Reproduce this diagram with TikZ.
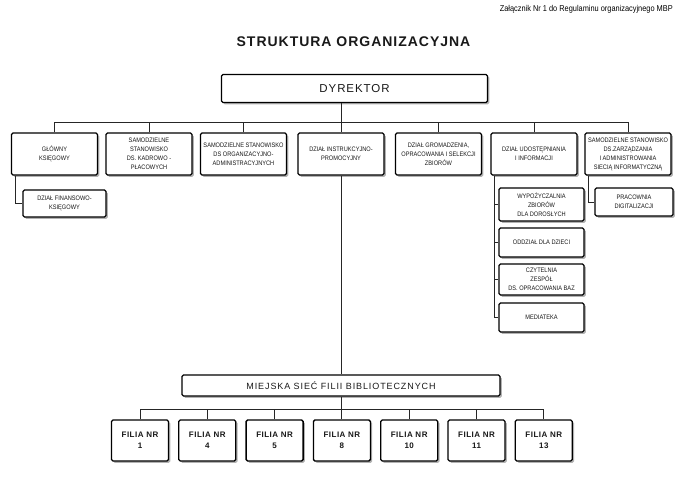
\documentclass[tikz,border=0pt]{standalone}
\usepackage{fontspec}
\setmainfont{Liberation Sans}
\newfontfamily\narrowfont[FakeStretch=0.87]{Liberation Sans}
\newfontfamily\titlefont[LetterSpace=7]{Liberation Sans}
\newfontfamily\spacedfont[LetterSpace=10]{Liberation Sans}
\newfontfamily\dirfont[LetterSpace=8]{Liberation Sans}
\newfontfamily\filfont[LetterSpace=6]{Liberation Sans}
\usetikzlibrary{shadows}
\tikzset{
  orgbox/.style={draw=black, line width=1.3pt, rounded corners=1.5pt, fill=white,
    align=center, inner sep=1pt, text=black!90,
    drop shadow={shadow xshift=1.8pt, shadow yshift=-1.8pt, fill=black, opacity=0.3}},
  smalltxt/.style={font=\fontsize{6.5}{9}\narrowfont},
  rowone/.style={orgbox, smalltxt, minimum width=86pt, minimum height=42pt},
  subbox/.style={orgbox, smalltxt, minimum width=85pt},
  filbox/.style={orgbox, minimum width=57pt, minimum height=41pt,
    font=\fontsize{8}{11}\filfont\bfseries},
  conn/.style={line width=0.9pt, black!85}
}
\begin{document}
\begin{tikzpicture}[x=1pt,y=-1pt]
\useasboundingbox (0,0) rectangle (690,483);
\fill[white] (0,0) rectangle (690,483);

\node[anchor=east, inner sep=0pt, font=\fontsize{8.5}{10}\narrowfont] (hdr) at (673,9)
  {Załącznik Nr 1 do Regulaminu organizacyjnego MBP};
\node[inner sep=0pt, font=\fontsize{14}{16}\titlefont\bfseries, text=black!90] (title) at (353.5,42)
  {STRUKTURA ORGANIZACYJNA};

\node[orgbox, minimum width=266pt, minimum height=28pt, font=\fontsize{11.5}{13}\dirfont] (dir) at (354.5,88.5) {DYREKTOR};

\node[rowone] (b1) at (54.5,154) {GŁÓWNY\\KSIĘGOWY};
\node[rowone] (b2) at (149,154) {SAMODZIELNE\\STANOWISKO\\DS. KADROWO -\\PŁACOWYCH};
\node[rowone] (b3) at (243.5,154) {SAMODZIELNE STANOWISKO\\DS ORGANIZACYJNO-\\ADMINISTRACYJNYCH};
\node[rowone] (b4) at (341,154) {DZIAŁ INSTRUKCYJNO-\\PROMOCYJNY};
\node[rowone] (b5) at (438.5,154) {DZIAŁ GROMADZENIA,\\OPRACOWANIA I SELEKCJI\\ZBIORÓW};
\node[rowone] (b6) at (534,154) {DZIAŁ UDOSTĘPNIANIA\\I INFORMACJI};
\node[rowone] (b7) at (628,154) {SAMODZIELNE STANOWISKO\\DS.ZARZĄDZANIA\\I ADMINISTROWANIA\\SIECIĄ INFORMATYCZNĄ};

\node[subbox, minimum width=83pt, minimum height=27pt] (fin) at (64.5,203.5) {DZIAŁ FINANSOWO-\\KSIĘGOWY};
\node[subbox, minimum height=33pt] (wyp) at (541.5,204.5) {WYPOŻYCZALNIA\\ZBIORÓW\\DLA DOROSŁYCH};
\node[subbox, minimum height=29pt] (odd) at (541.5,242.5) {ODDZIAŁ DLA DZIECI};
\node[subbox, minimum height=31pt] (czy) at (541.5,279.5) {CZYTELNIA\\ZESPÓŁ\\DS. OPRACOWANIA BAZ};
\node[subbox, minimum height=29pt] (med) at (541.5,317.5) {MEDIATEKA};
\node[subbox, minimum width=78pt, minimum height=28pt] (prac) at (634,202) {PRACOWNIA\\DIGITALIZACJI};

\node[orgbox, minimum width=318pt, minimum height=21pt, font=\fontsize{9}{11}\spacedfont] (mia) at (341,385.5) {MIEJSKA SIEĆ FILII BIBLIOTECZNYCH};

\node[filbox] (f1) at (140,440.5) {FILIA NR\\1};
\node[filbox] (f4) at (207.3,440.5) {FILIA NR\\4};
\node[filbox] (f5) at (274.6,440.5) {FILIA NR\\5};
\node[filbox] (f8) at (341.9,440.5) {FILIA NR\\8};
\node[filbox] (f10) at (409.2,440.5) {FILIA NR\\10};
\node[filbox] (f11) at (476.5,440.5) {FILIA NR\\11};
\node[filbox] (f13) at (543.8,440.5) {FILIA NR\\13};

% connectors
\coordinate (bus) at (0,122);
\coordinate (fbus) at (0,409);
\draw[conn] (dir.south -| b4.north) -- (b4.north);
\draw[conn] (b1.north) |- (b7.north |- bus) -- (b7.north);
\foreach \n in {b2,b3,b5,b6} \draw[conn] (\n.north) -- (\n.north |- bus);
\draw[conn] (b4.south) -- (mia.north -| b4.south);
\draw[conn] ([xshift=5pt]b1.south west) |- (fin.west);
\coordinate (c6) at ([xshift=4pt]b6.south west);
\draw[conn] (c6) |- (med.west);
\foreach \n in {wyp,odd,czy} \draw[conn] (\n.west) -- (\n.west -| c6);
\draw[conn] ([xshift=4.5pt]b7.south west) |- (prac.west);
\draw[conn] (mia.south -| f8.north) -- (f8.north);
\draw[conn] (f1.north) |- (f13.north |- fbus) -- (f13.north);
\foreach \n in {f4,f5,f10,f11} \draw[conn] (\n.north) -- (\n.north |- fbus);
\end{tikzpicture}
\end{document}
